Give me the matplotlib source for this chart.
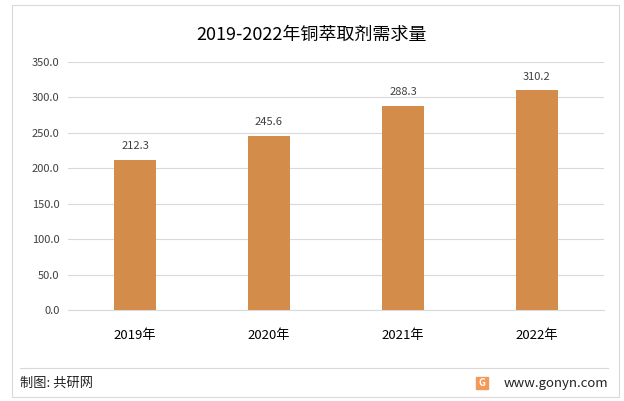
import matplotlib
matplotlib.use("Agg")
import matplotlib.pyplot as plt
from matplotlib.patches import Rectangle
from matplotlib.lines import Line2D
from matplotlib import font_manager

names = {f.name for f in font_manager.fontManager.ttflist}
cjk = [n for n in ["Noto Sans CJK SC", "Noto Sans CJK JP", "Noto Sans CJK TC", "Noto Sans CJK KR"] if n in names]
plt.rcParams["font.family"] = "sans-serif"
plt.rcParams["font.sans-serif"] = cjk + ["DejaVu Sans"]

categories = ["2019年", "2020年", "2021年", "2022年"]
values = [212.3, 245.6, 288.3, 310.2]
yticks = [0, 50, 100, 150, 200, 250, 300, 350]

W, H = 624, 401
fig = plt.figure(figsize=(W/100, H/100), dpi=100)

fig.add_artist(Rectangle((12/W, 1-397/H), 607/W, 392/H, transform=fig.transFigure,
                         fill=False, edgecolor="#d9d9d9", lw=0.8))
fig.add_artist(Line2D([20/W, 608/W], [1-368/H, 1-368/H], transform=fig.transFigure,
                      color="#d9d9d9", lw=0.8))

ax = fig.add_axes([68/W, 1-310/H, 536/W, 248/H])
x = range(len(categories))
ax.bar(x, values, width=0.31, color="#D48C4B", zorder=3)
for i, v in enumerate(values):
    ax.text(i, v + 12, f"{v:.1f}", ha="center", va="bottom", fontsize=8, color="#404040")
ax.set_xlim(-0.5, 3.5)
ax.set_ylim(0, 350)
ax.set_yticks(yticks)
ax.set_yticklabels([f"{t:.1f}" for t in yticks], fontsize=8, color="#404040")
ax.set_xticks(list(x))
ax.set_xticklabels(categories, fontsize=9.5, color="#000000")
ax.grid(axis="y", color="#d9d9d9", lw=0.8, zorder=0)
for s in ["top", "right", "left"]:
    ax.spines[s].set_visible(False)
ax.spines["bottom"].set_color("#d9d9d9")
ax.tick_params(axis="y", length=0, pad=6)
ax.tick_params(axis="x", length=0, pad=14)

fig.text(0.5, 1-35/H, "2019-2022年铜萃取剂需求量", ha="center", va="center", fontsize=13, color="#000000")
fig.text(20/W, 1-383/H, "制图: 共研网", ha="left", va="center", fontsize=9.5, color="#222222")
fig.text(608/W, 1-383/H, "www.gonyn.com", ha="right", va="center", fontsize=9.5, color="#222222")
fig.add_artist(Rectangle((476/W, 1-389/H), 12/W, 12/H, transform=fig.transFigure,
                         color="#F29A5A"))
fig.text(482/W, 1-383/H, "G", ha="center", va="center", fontsize=7, color="white", weight="bold")

fig.savefig("out.png", dpi=100)
